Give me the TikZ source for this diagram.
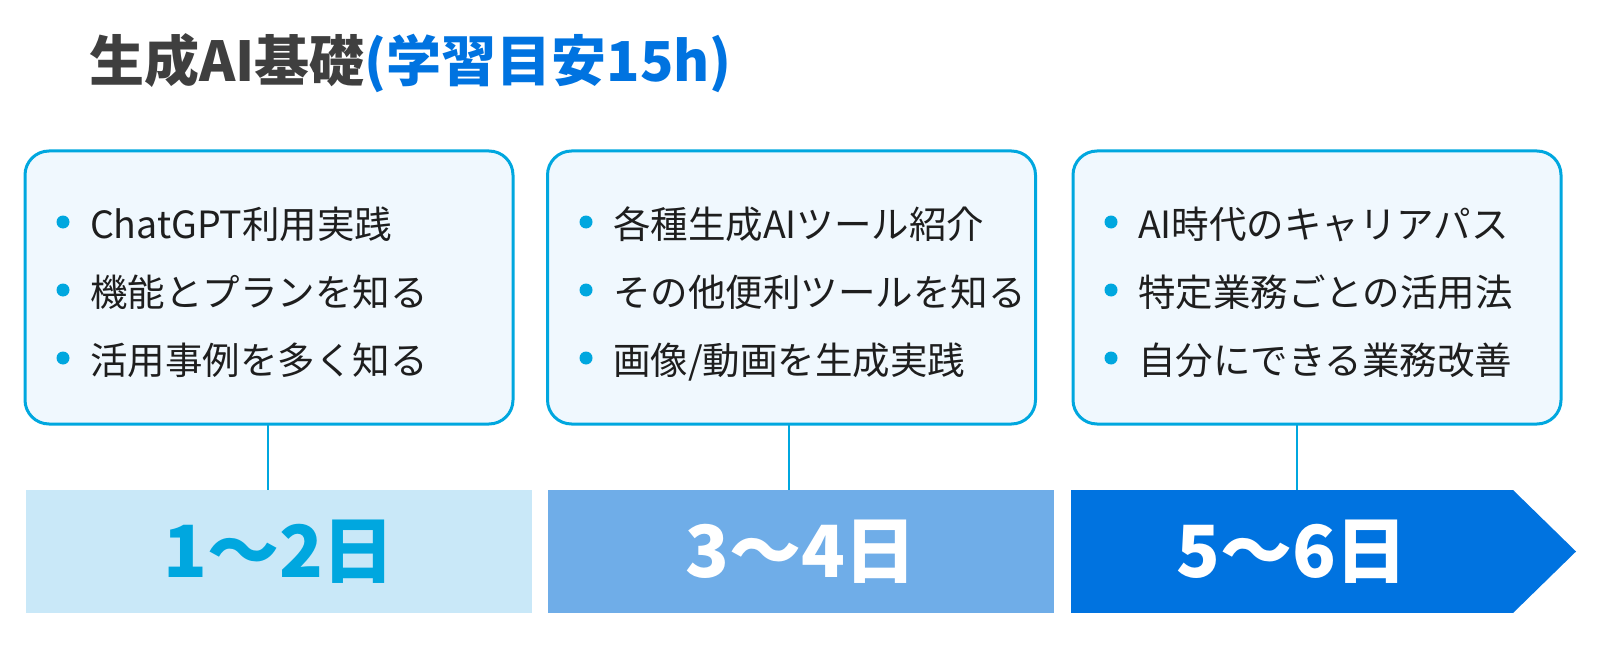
\documentclass[tikz,border=0pt]{standalone}
\usepackage{fontspec}
\setmainfont{Noto Sans CJK JP}
\definecolor{ink}{HTML}{1E1E1E}
\definecolor{cyanline}{HTML}{00A7DF}
\definecolor{boxfill}{HTML}{F0F8FE}
\definecolor{day1}{HTML}{C9E8F8}
\definecolor{day2}{HTML}{6FADE8}
\definecolor{day3}{HTML}{0073E0}
\definecolor{titlegray}{HTML}{3F3F3F}
\definecolor{titleblue}{HTML}{0073E0}

\begin{document}
\begin{tikzpicture}[x=1pt,y=-1pt,every node/.style={inner sep=0pt,outer sep=0pt},
	card/.style={draw=cyanline,line width=3pt,fill=boxfill,rounded corners=24pt,minimum width=488pt,minimum height=273pt},
	item/.style={anchor=base west,font=\fontsize{37.5}{37.5}\selectfont,text=ink},
	dot/.style={circle,fill=cyanline,minimum size=13pt},
	day/.style={minimum height=123pt,font=\fontsize{72}{72}\selectfont\bfseries}]
							\useasboundingbox (0,0) rectangle (1600,647);

							\node[anchor=base west,font=\fontsize{55}{55}\selectfont\bfseries] (title) at (89,82)
								{\textcolor{titlegray}{生成AI基礎}\textcolor{titleblue}{(学習目安15h)}};

							\node[card] (c1) at (269,287.5) {};
							\node[card] (c2) at (791.5,287.5) {};
							\node[card] (c3) at (1317,287.5) {};

							\foreach \c/\x/\i/\txt in {c1/25/1/ChatGPT利用実践,c1/25/2/機能とプランを知る,c1/25/3/活用事例を多く知る,
								c2/548/1/各種生成AIツール紹介,c2/548/2/その他便利ツールを知る,c2/548/3/{画像/動画を生成実践},
								c3/1073/1/AI時代のキャリアパス,c3/1073/2/特定業務ごとの活用法,c3/1073/3/自分にできる業務改善}
							{
								\node[dot] (\c-d\i) at ({\x+38},{154+68*\i}) {};
								\node[item] (\c-t\i) at ({\x+65},{170+68*\i}) {\txt};
							}

							\foreach \n/\x/\w/\col/\tc/\txt in {d1/279/506/day1/cyanline/1〜2日,d2/801/506/day2/white/3〜4日,d3/1292/442/day3/white/5〜6日}
								\node[day,fill=\col,text=\tc,minimum width=\w pt] (\n) at (\x,551.5) {\txt};
							\fill[day3] (d3.north east) -- ([xshift=63pt]d3.east) -- (d3.south east) -- cycle;

							\coordinate (k1) at (268,0);
							\coordinate (k2) at (789,0);
							\coordinate (k3) at (1297,0);
							\foreach \i in {1,2,3}
								\draw[cyanline,line width=2pt] (c\i.south -| k\i) -- (d\i.north -| k\i);

						\end{tikzpicture}
\end{document}
